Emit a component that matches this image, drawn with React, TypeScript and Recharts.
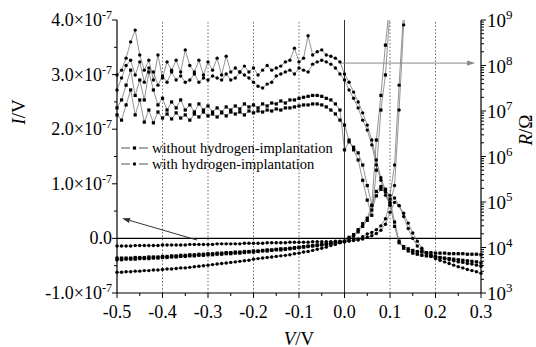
import { LineChart, Line, XAxis, YAxis, ReferenceLine, Legend, Label } from 'recharts';

const FONT = 'Liberation Serif';

// bias voltage, V
const volts = [
  -0.5, -0.49, -0.48, -0.47, -0.46, -0.45, -0.44, -0.43, -0.42, -0.41,
  -0.4, -0.39, -0.38, -0.37, -0.36, -0.35, -0.34, -0.33, -0.32, -0.31,
  -0.3, -0.29, -0.28, -0.27, -0.26, -0.25, -0.24, -0.23, -0.22, -0.21,
  -0.2, -0.19, -0.18, -0.17, -0.16, -0.15, -0.14, -0.13, -0.12, -0.11,
  -0.1, -0.09, -0.08, -0.07, -0.06, -0.05, -0.04, -0.03, -0.02, -0.01,
  0, 0.01, 0.02, 0.03, 0.04, 0.05, 0.06, 0.07, 0.08, 0.09,
  0.1, 0.11, 0.12, 0.13, 0.14, 0.15, 0.16, 0.17, 0.18, 0.19,
  0.2, 0.21, 0.22, 0.23, 0.24, 0.25, 0.26, 0.27, 0.28, 0.29, 0.3
];

// current, in units of 1e-7 (left axis)
const currentWithout1 = [
  -0.36, -0.36, -0.36, -0.36, -0.35, -0.35, -0.35, -0.34, -0.34, -0.34,
  -0.33, -0.33, -0.32, -0.32, -0.31, -0.31, -0.3, -0.3, -0.29, -0.29,
  -0.28, -0.28, -0.27, -0.27, -0.26, -0.26, -0.25, -0.25, -0.24, -0.24,
  -0.23, -0.23, -0.22, -0.21, -0.21, -0.2, -0.19, -0.19, -0.18, -0.17,
  -0.16, -0.15, -0.14, -0.13, -0.12, -0.11, -0.1, -0.09, -0.08, -0.07,
  -0.05, 0.02, 0.07, 0.16, 0.27, 0.37, 0.6, 0.86, 0.95, 0.9,
  0.72, 0.3, -0.05, -0.15, -0.19, -0.22, -0.24, -0.25, -0.26, -0.26,
  -0.27, -0.27, -0.27, -0.28, -0.28, -0.28, -0.28, -0.29, -0.29, -0.29, -0.3
];
const currentWithout2 = [
  -0.39, -0.39, -0.38, -0.38, -0.38, -0.37, -0.37, -0.37, -0.36, -0.36,
  -0.35, -0.35, -0.34, -0.34, -0.33, -0.33, -0.32, -0.32, -0.31, -0.31,
  -0.3, -0.3, -0.29, -0.29, -0.28, -0.28, -0.27, -0.27, -0.26, -0.25,
  -0.25, -0.24, -0.23, -0.23, -0.22, -0.21, -0.21, -0.2, -0.19, -0.18,
  -0.17, -0.16, -0.15, -0.14, -0.13, -0.12, -0.11, -0.1, -0.08, -0.07,
  -0.06, 0, 0.04, 0.12, 0.22, 0.33, 0.52, 0.78, 0.9, 0.85,
  0.62, 0.22, -0.08, -0.18, -0.23, -0.27, -0.29, -0.31, -0.32, -0.33,
  -0.34, -0.35, -0.36, -0.37, -0.38, -0.39, -0.4, -0.41, -0.42, -0.43, -0.45
];
const currentWith1 = [
  -0.14, -0.14, -0.14, -0.14, -0.13, -0.13, -0.13, -0.13, -0.13, -0.13,
  -0.12, -0.12, -0.12, -0.12, -0.12, -0.12, -0.11, -0.11, -0.11, -0.11,
  -0.11, -0.11, -0.1, -0.1, -0.1, -0.1, -0.1, -0.1, -0.09, -0.09,
  -0.09, -0.09, -0.09, -0.08, -0.08, -0.08, -0.08, -0.08, -0.07, -0.07,
  -0.07, -0.07, -0.07, -0.06, -0.06, -0.06, -0.06, -0.06, -0.05, -0.05,
  -0.05, -0.04, -0.03, -0.01, 0.03, 0.08, 0.11, 0.16, 0.23, 0.36,
  0.66, 0.74, 0.6, 0.4, 0.18, 0, -0.14, -0.22, -0.27, -0.3,
  -0.33, -0.35, -0.37, -0.39, -0.41, -0.43, -0.44, -0.46, -0.47, -0.49, -0.51
];
const currentWith2 = [
  -0.62, -0.62, -0.61, -0.61, -0.6, -0.6, -0.59, -0.59, -0.58, -0.58,
  -0.57, -0.56, -0.56, -0.55, -0.54, -0.54, -0.53, -0.52, -0.51, -0.5,
  -0.49, -0.48, -0.47, -0.46, -0.45, -0.44, -0.43, -0.42, -0.41, -0.4,
  -0.38, -0.37, -0.36, -0.35, -0.34, -0.33, -0.32, -0.31, -0.3, -0.28,
  -0.27, -0.25, -0.24, -0.22, -0.2, -0.18, -0.16, -0.13, -0.11, -0.08,
  -0.06, -0.05, -0.04, -0.03, -0.01, 0.02, 0.05, 0.09, 0.15, 0.26,
  0.48, 0.66, 0.6, 0.46, 0.28, 0.1, -0.05, -0.18, -0.26, -0.32,
  -0.37, -0.4, -0.43, -0.46, -0.49, -0.52, -0.54, -0.57, -0.59, -0.61, -0.64
];

// resistance, ohm (right axis, log)
const resistWithout1 = [
  1.17e7, 1.75e7, 3.7e7, 7.9e7, 2.2e7, 4.8e7, 1.75e7, 7.2e7, 2.9e7, 1.36e7,
  1.9e7, 1.05e7, 1.58e7, 1.17e7, 1.75e7, 1.05e7, 1.36e7, 9.5e6, 1.43e7, 1.05e7,
  1.29e7, 9.5e6, 1.17e7, 9.5e6, 1.23e7, 1.05e7, 1.29e7, 1.11e7, 1.43e7, 1.23e7,
  1.36e7, 1.17e7, 1.43e7, 1.29e7, 1.5e7, 1.43e7, 1.66e7, 1.5e7, 1.75e7, 1.75e7,
  1.9e7, 2.0e7, 2.1e7, 2.2e7, 2.2e7, 2.1e7, 1.9e7, 1.75e7, 1.43e7, 1.05e7,
  1.4e6, 2.1e6, 1.6e6, 1.2e6, 6.5e5, 2.3e5, 8.5e4, 2.3e6, 2.2e7, 2.8e8,
  2.75e9, null, null, null, null, null, null, null, null, null,
  null, null, null, null, null, null, null, null, null, null, null
];
const resistWithout2 = [
  8.2e6, 6.3e6, 1.36e7, 2.9e7, 8.2e6, 1.75e7, 5.7e6, 1.05e7, 5.5e6, 9.5e6,
  7.0e6, 8.6e6, 6.7e6, 9.1e6, 7.0e6, 8.2e6, 6.3e6, 8.6e6, 7.4e6, 9.5e6,
  7.8e6, 8.6e6, 7.4e6, 9.1e6, 7.8e6, 9.5e6, 8.6e6, 9.5e6, 8.2e6, 1.0e7,
  9.1e6, 1.0e7, 9.5e6, 1.05e7, 1.0e7, 1.11e7, 1.05e7, 1.17e7, 1.17e7, 1.23e7,
  1.29e7, 1.36e7, 1.36e7, 1.43e7, 1.43e7, 1.36e7, 1.23e7, 1.05e7, 8.6e6, 6.3e6,
  4.9e6, 2.3e6, 1.4e6, 8.4e5, 3.0e5, 1.1e5, 5.1e4, 5.0e5, 1.05e7, 6.2e7,
  1.66e9, null, null, null, null, null, null, null, null, null,
  null, null, null, null, null, null, null, null, null, null, null
];
const resistWith1 = [
  6.2e7, 7.9e7, 1.45e8, 3.3e8, 6.0e8, 1.7e8, 7.9e7, 1.3e8, 4.8e7, 1.7e8,
  5.3e7, 1.2e8, 7.9e7, 1.3e8, 7.2e7, 2.2e8, 1.0e8, 7.2e7, 1.3e8, 6.2e7,
  1.2e8, 7.9e7, 1.45e8, 6.2e7, 1.6e8, 7.2e7, 8.8e7, 7.2e7, 9.7e7, 7.2e7,
  8.8e7, 6.2e7, 7.9e7, 1.0e8, 7.9e7, 8.8e7, 9.7e7, 1.2e8, 1.3e8, 2.4e8,
  1.2e8, 1.45e8, 4.5e8, 1.7e8, 2.0e8, 2.2e8, 1.7e8, 1.6e8, 1.45e8, 1.2e8,
  6.5e7, 4.3e7, 2.6e7, 1.58e7, 9.1e6, 4.9e6, 2.3e6, 8.4e5, 3.4e5, 1.8e5,
  1.4e5, 6.5e5, 3.7e7, 1.66e9, null, null, null, null, null, null,
  null, null, null, null, null, null, null, null, null, null, null
];
const resistWith2 = [
  2.9e7, 5.3e7, 1.0e8, 1.3e8, 6.2e7, 1.2e8, 4.3e7, 8.8e7, 7.2e7, 3.7e7,
  5.9e7, 4.3e7, 7.2e7, 4.8e7, 5.9e7, 4.3e7, 4.8e7, 6.5e7, 4.3e7, 5.3e7,
  4.8e7, 5.9e7, 5.3e7, 4.8e7, 6.5e7, 4.8e7, 5.3e7, 7.2e7, 6.2e7, 5.3e7,
  4.3e7, 3.5e7, 3.2e7, 3.9e7, 4.3e7, 5.9e7, 6.5e7, 7.2e7, 7.9e7, 6.5e7,
  8.8e7, 7.9e7, 7.2e7, 1.07e8, 1.2e8, 1.3e8, 1.2e8, 1.07e8, 8.8e7, 6.5e7,
  4.8e7, 2.9e7, 1.9e7, 1.17e7, 6.3e6, 3.8e6, 1.8e6, 6.5e5, 3.0e5, 1.4e5,
  8.5e4, 2.3e5, 1.05e7, 7.8e8, 3.0e9, null, null, null, null, null,
  null, null, null, null, null, null, null, null, null, null, null
];

const xTicks = [-0.5, -0.45, -0.4, -0.35, -0.3, -0.25, -0.2, -0.15, -0.1, -0.05, 0, 0.05, 0.1, 0.15, 0.2, 0.25, 0.3];
const iTicks = [-1, -0.5, 0, 0.5, 1, 1.5, 2, 2.5, 3, 3.5, 4];
const rDecades = [1e3, 1e4, 1e5, 1e6, 1e7, 1e8, 1e9];
const rTicks = rDecades.flatMap((d, k) =>
  k === rDecades.length - 1 ? [d] : [1, 2, 3, 4, 5, 6, 7, 8, 9].map((m) => m * d)
);
const dottedAt = [-0.4, -0.3, -0.2, -0.1, 0.1, 0.2];
const legendItems = [
  { label: 'without hydrogen-implantation', marker: 'square' },
  { label: 'with hydrogen-implantation', marker: 'circle' }
];

const rows = volts.map((v, i) => ({
  v,
  iWo1: currentWithout1[i],
  iWo2: currentWithout2[i],
  iW1: currentWith1[i],
  iW2: currentWith2[i],
  rWo1: resistWithout1[i],
  rWo2: resistWithout2[i],
  rW1: resistWith1[i],
  rW2: resistWith2[i]
}));

const squareDot = (p: any) => {
  if (p.cy == null || isNaN(p.cy)) return <g key={`${p.dataKey}-${p.index}`} />;
  return <rect key={`${p.dataKey}-${p.index}`} x={p.cx - 1.6} y={p.cy - 1.6} width={3.2} height={3.2} fill='#000' />;
};
const circleDot = (p: any) => {
  if (p.cy == null || isNaN(p.cy)) return <g key={`${p.dataKey}-${p.index}`} />;
  return <circle key={`${p.dataKey}-${p.index}`} cx={p.cx} cy={p.cy} r={1.7} fill='#000' />;
};

const BottomTick = (props: any) => {
  const { x, y, payload } = props;
  const v = payload.value;
  const major = Math.abs(v * 10 - Math.round(v * 10)) < 1e-6;
  return (
    <g>
      <line x1={x} x2={x} y1={y} y2={y + (major ? 5 : 3)} stroke='#000' />
      {major && (
        <text x={x} y={y + 25} textAnchor='middle' fontFamily={FONT} fontSize={18} fill='#000'>
          {v.toFixed(1)}
        </text>
      )}
    </g>
  );
};

const LeftTick = (props: any) => {
  const { x, y, payload } = props;
  const v = payload.value;
  const major = Math.abs(v - Math.round(v)) < 1e-6;
  return (
    <g>
      <line x1={x} x2={x - (major ? 5 : 3)} y1={y} y2={y} stroke='#000' />
      {major && (
        <text x={x - 5} y={y + 6} textAnchor='end' fontFamily={FONT} fontSize={18} fill='#000'>
          {v === 0 ? '0.0' : `${v.toFixed(1)}×10`}
          {v !== 0 && (
            <tspan dy={-7} fontSize={12}>-7</tspan>
          )}
        </text>
      )}
    </g>
  );
};

const RightTick = (props: any) => {
  const { x, y, payload } = props;
  const e = Math.log10(payload.value);
  const major = Math.abs(e - Math.round(e)) < 1e-6;
  return (
    <g>
      <line x1={x} x2={x + (major ? 5 : 3)} y1={y} y2={y} stroke='#000' />
      {major && (
        <text x={x + 6} y={y + 7} textAnchor='start' fontFamily={FONT} fontSize={19} fill='#000'>
          10
          <tspan dy={-8} fontSize={13}>{Math.round(e)}</tspan>
        </text>
      )}
    </g>
  );
};

const arrowShape = (color: string) => (props: any) => {
  const { x1, y1, x2, y2 } = props;
  const a = Math.atan2(y2 - y1, x2 - x1);
  const len = 8;
  const w = 2.6;
  const bx = x2 - len * Math.cos(a);
  const by = y2 - len * Math.sin(a);
  const pts = `${x2},${y2} ${bx - w * Math.sin(a)},${by + w * Math.cos(a)} ${bx + w * Math.sin(a)},${by - w * Math.cos(a)}`;
  return (
    <g>
      <line x1={x1} y1={y1} x2={bx} y2={by} stroke={color} strokeWidth={1} />
      <polygon points={pts} fill={color} />
    </g>
  );
};

const renderLegend = () => (
  <div style={{ fontFamily: FONT, fontSize: 14.5, lineHeight: '16px', color: '#000' }}>
    {legendItems.map((item) => (
      <div key={item.label} style={{ display: 'flex', alignItems: 'center', whiteSpace: 'nowrap' }}>
        <svg width={30} height={10}>
          <line x1={1} x2={10} y1={5} y2={5} stroke='#555' />
          <line x1={19} x2={28} y1={5} y2={5} stroke='#555' />
          {item.marker === 'square' ? (
            <rect x={12.9} y={3.4} width={3.2} height={3.2} fill='#000' />
          ) : (
            <circle cx={14.5} cy={5} r={1.7} fill='#000' />
          )}
        </svg>
        <span style={{ marginLeft: 2 }}>{item.label}</span>
      </div>
    ))}
  </div>
);

const leftLabel = (p: any) => {
  const cx = p.viewBox.x + 18;
  const cy = p.viewBox.y + 92;
  return (
    <text x={cx} y={cy} transform={`rotate(-90, ${cx}, ${cy})`} textAnchor='middle' dominantBaseline='central' fontFamily={FONT} fontSize={19} fill='#000'>
      <tspan fontStyle='italic'>I</tspan>/V
    </text>
  );
};
const rightLabel = (p: any) => {
  const cx = p.viewBox.x + 44;
  const cy = p.viewBox.y + 110;
  return (
    <text x={cx} y={cy} transform={`rotate(-90, ${cx}, ${cy})`} textAnchor='middle' dominantBaseline='central' fontFamily={FONT} fontSize={19} fill='#000'>
      <tspan fontStyle='italic'>R</tspan>/Ω
    </text>
  );
};
const bottomLabel = (p: any) => {
  const cx = p.viewBox.x + p.viewBox.width / 2;
  const cy = p.viewBox.y + 45;
  return (
    <text x={cx} y={cy} textAnchor='middle' dominantBaseline='central' fontFamily={FONT} fontSize={19} fill='#000'>
      <tspan fontStyle='italic'>V</tspan>/V
    </text>
  );
};

export default function App() {
  return (
    <div style={{ position: 'absolute', left: 0, top: 0, background: '#fff', fontFamily: FONT }}>
      <LineChart width={536} height={347} data={rows} margin={{ top: 20, right: 0, bottom: 0, left: 0 }}>
        <XAxis
          dataKey='v'
          type='number'
          domain={[-0.5, 0.3]}
          ticks={xTicks}
          interval={0}
          tick={<BottomTick />}
          tickLine={false}
          tickSize={0}
          tickMargin={0}
          height={54}
          axisLine={{ stroke: '#000', strokeWidth: 1.2 }}
        >
          <Label content={bottomLabel} />
        </XAxis>
        <XAxis
          xAxisId='top'
          dataKey='v'
          type='number'
          domain={[-0.5, 0.3]}
          orientation='top'
          height={0}
          tick={false}
          tickLine={false}
          axisLine={{ stroke: '#000', strokeWidth: 1.2 }}
        />
        <YAxis
          yAxisId='I'
          type='number'
          domain={[-1, 4]}
          ticks={iTicks}
          interval={0}
          width={117}
          tick={<LeftTick />}
          tickLine={false}
          tickSize={0}
          tickMargin={0}
          axisLine={{ stroke: '#000', strokeWidth: 1.2 }}
        >
          <Label content={leftLabel} />
        </YAxis>
        <YAxis
          yAxisId='R'
          orientation='right'
          type='number'
          scale='log'
          domain={[1e3, 1e9]}
          allowDataOverflow
          ticks={rTicks}
          interval={0}
          width={55}
          tick={<RightTick />}
          tickLine={false}
          tickSize={0}
          tickMargin={0}
          axisLine={{ stroke: '#000', strokeWidth: 1.2 }}
        >
          <Label content={rightLabel} />
        </YAxis>

        {dottedAt.map((x) => (
          <ReferenceLine key={x} x={x} yAxisId='I' stroke='#444' strokeWidth={0.8} strokeDasharray='1.5 2' />
        ))}
        <ReferenceLine x={0} yAxisId='I' stroke='#333' strokeWidth={1} />
        <ReferenceLine y={0} yAxisId='I' stroke='#000' strokeWidth={1.3} />

        <Line yAxisId='R' dataKey='rWo1' stroke='#666' strokeWidth={0.7} dot={squareDot} activeDot={false} isAnimationActive={false} />
        <Line yAxisId='R' dataKey='rWo2' stroke='#666' strokeWidth={0.7} dot={squareDot} activeDot={false} isAnimationActive={false} />
        <Line yAxisId='R' dataKey='rW1' stroke='#666' strokeWidth={0.7} dot={circleDot} activeDot={false} isAnimationActive={false} />
        <Line yAxisId='R' dataKey='rW2' stroke='#666' strokeWidth={0.7} dot={circleDot} activeDot={false} isAnimationActive={false} />
        <Line yAxisId='I' dataKey='iWo1' stroke='#666' strokeWidth={0.7} dot={squareDot} activeDot={false} isAnimationActive={false} />
        <Line yAxisId='I' dataKey='iWo2' stroke='#666' strokeWidth={0.7} dot={squareDot} activeDot={false} isAnimationActive={false} />
        <Line yAxisId='I' dataKey='iW1' stroke='#666' strokeWidth={0.7} dot={circleDot} activeDot={false} isAnimationActive={false} />
        <Line yAxisId='I' dataKey='iW2' stroke='#666' strokeWidth={0.7} dot={circleDot} activeDot={false} isAnimationActive={false} />

        <ReferenceLine
          yAxisId='R'
          segment={[{ x: -0.007, y: 1.13e8 }, { x: 0.287, y: 1.13e8 }]}
          shape={arrowShape('#888')}
        />
        <ReferenceLine
          yAxisId='I'
          segment={[{ x: -0.324, y: -0.03 }, { x: -0.489, y: 0.37 }]}
          shape={arrowShape('#333')}
        />

        <Legend
          content={renderLegend}
          layout='vertical'
          align='center'
          verticalAlign='middle'
          wrapperStyle={{ left: 120, top: 140, width: 240 }}
        />
      </LineChart>
    </div>
  );
}
